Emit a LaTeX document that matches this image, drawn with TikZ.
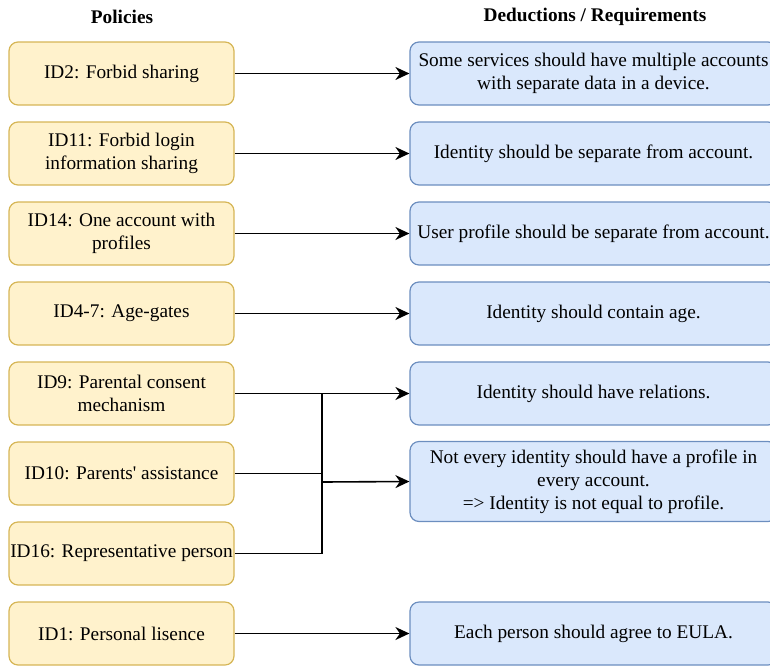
\documentclass[tikz,border=0pt]{standalone}
\usepackage{fontspec}
\setmainfont{Liberation Serif}
\usetikzlibrary{positioning,arrows.meta}
\definecolor{policyfill}{HTML}{FFF2CC}
\definecolor{policyline}{HTML}{D6B656}
\definecolor{deductfill}{HTML}{DAE8FC}
\definecolor{deductline}{HTML}{6C8EBF}

\begin{document}
\begin{tikzpicture}[
  x=1pt,y=-1pt,
  every node/.style={font=\fontsize{19.3}{23}\selectfont},
  policy/.style={rectangle,rounded corners=9pt,draw=policyline,fill=policyfill,line width=1.2pt,align=center,minimum width=225pt,minimum height=63pt,inner sep=0pt,on grid},
  deduction/.style={rectangle,rounded corners=9pt,draw=deductline,fill=deductfill,line width=1.2pt,align=center,minimum width=367pt,minimum height=63pt,inner sep=0pt,on grid},
  heads/.style={font=\fontsize{19.3}{23}\selectfont\bfseries},
  links/.style={line width=1.6pt,-{Stealth[length=14pt,width=13pt,inset=4.5pt]}},
  node distance=80pt and 472pt,
]
\useasboundingbox (0,0) rectangle (770,667);

\node (polhead) [heads] at (122,17) {Policies};
\node (dedhead) [heads] at (595,17) {Deductions / Requirements};

\node (p2) [policy] at (121.5,73.5) {ID2: Forbid sharing};
\node (p11) [policy,below=of p2] {ID11: Forbid login\\information sharing};
\node (p14) [policy,below=of p11] {ID14: One account with\\profiles};
\node (p4) [policy,below=of p14] {ID4-7: Age-gates};
\node (p9) [policy,below=of p4] {ID9: Parental consent\\mechanism};
\node (p10) [policy,below=of p9] {ID10: Parents\textquotesingle\ assistance};
\node (p16) [policy,below=of p10] {ID16: Representative person};
\node (p1) [policy,below=of p16] {ID1: Personal lisence};

\node (r2) [deduction,right=of p2] {Some services should have multiple accounts\\with separate data in a device.};
\node (r11) [deduction,right=of p11] {Identity should be separate from account.};
\node (r14) [deduction,right=of p14] {User profile should be separate from account.};
\node (r4) [deduction,right=of p4] {Identity should contain age.};
\node (r9) [deduction,right=of p9] {Identity should have relations.};
\node (r10) [deduction,minimum height=80pt,below=88pt of r9] {Not every identity should have a profile in\\every account.\\=> Identity is not equal to profile.};
\node (r1) [deduction,right=of p1] {Each person should agree to EULA.};

\draw [links] (p2.east) -- (r2.west);
\draw [links] (p11.east) -- (r11.west);
\draw [links] (p14.east) -- (r14.west);
\draw [links] (p4.east) -- (r4.west);
\draw [links] (p9.east) -- (r9.west);
\draw [links] (p1.east) -- (r1.west);

% parents' policies meet on one bus
\coordinate (bus) at (322,482);
\draw [line width=1.6pt] (p10.east) -- (p10.east -| bus);
\draw [line width=1.6pt] (p16.east) -| (p9.east -| bus);
\draw [links] (bus) -- (r10.west);
\end{tikzpicture}
\end{document}
